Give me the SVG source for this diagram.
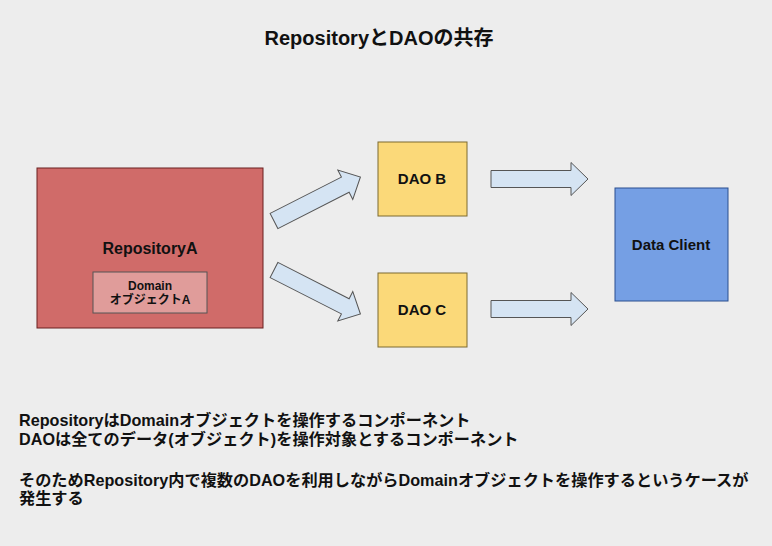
<svg xmlns="http://www.w3.org/2000/svg" width="772" height="546" viewBox="0 0 772 546">
<defs>
<style>
.t{font-family:"Liberation Sans","Noto Sans CJK JP",sans-serif;font-weight:bold;fill:#111;}
.c{text-anchor:middle;}
.arr{fill:#d5e4f3;stroke:#555;stroke-width:1;}
</style>
<path id="ar" d="M0,-8.5 L80,-8.5 L80,-16.5 L97,0 L80,16.5 L80,8.5 L0,8.5 Z"/>
</defs>
<rect x="0" y="0" width="772" height="546" fill="#ededed"/>
<text class="t c" x="379" y="45" font-size="20">RepositoryとDAOの共存</text>
<g id="repositoryA">
<rect x="37" y="168" width="226" height="160" fill="#d06b69" stroke="#6b2020" stroke-width="1"/>
<text class="t c" x="150" y="254" font-size="16">RepositoryA</text>
</g>
<g id="domain">
<rect x="93" y="272" width="114" height="41" fill="#e09c9a" stroke="#555" stroke-width="1"/>
<text class="t c" x="150" y="290" font-size="12">Domain</text>
<text class="t c" x="150" y="304" font-size="12">オブジェクトA</text>
</g>
<g id="daoB">
<rect x="378" y="142" width="89" height="74" fill="#fbd979" stroke="#7d6a30" stroke-width="1"/>
<text class="t c" x="422" y="184" font-size="15">DAO B</text>
</g>
<g id="daoC">
<rect x="378" y="273" width="89" height="74" fill="#fbd979" stroke="#7d6a30" stroke-width="1"/>
<text class="t c" x="422" y="315" font-size="15">DAO C</text>
</g>
<g id="dataClient">
<rect x="615" y="188" width="113" height="113" fill="#759fe4" stroke="#2a4f8f" stroke-width="1"/>
<text class="t c" x="671" y="250" font-size="15">Data Client</text>
</g>
<g id="connectors">
<use href="#ar" class="arr" transform="translate(274,221) rotate(-27)"/>
<use href="#ar" class="arr" transform="translate(274,270) rotate(27)"/>
<use href="#ar" class="arr" transform="translate(491,179)"/>
<use href="#ar" class="arr" transform="translate(491,309)"/>
</g>
<g id="notes">
<text class="t" x="19" y="425.5" font-size="16.2">RepositoryはDomainオブジェクトを操作するコンポーネント</text>
<text class="t" x="19" y="445" font-size="16.2">DAOは全てのデータ(オブジェクト)を操作対象とするコンポーネント</text>
<text class="t" x="19" y="486" font-size="16.2">そのためRepository内で複数のDAOを利用しながらDomainオブジェクトを操作するというケースが</text>
<text class="t" x="19" y="503.5" font-size="16.2">発生する</text>
</g>
</svg>
